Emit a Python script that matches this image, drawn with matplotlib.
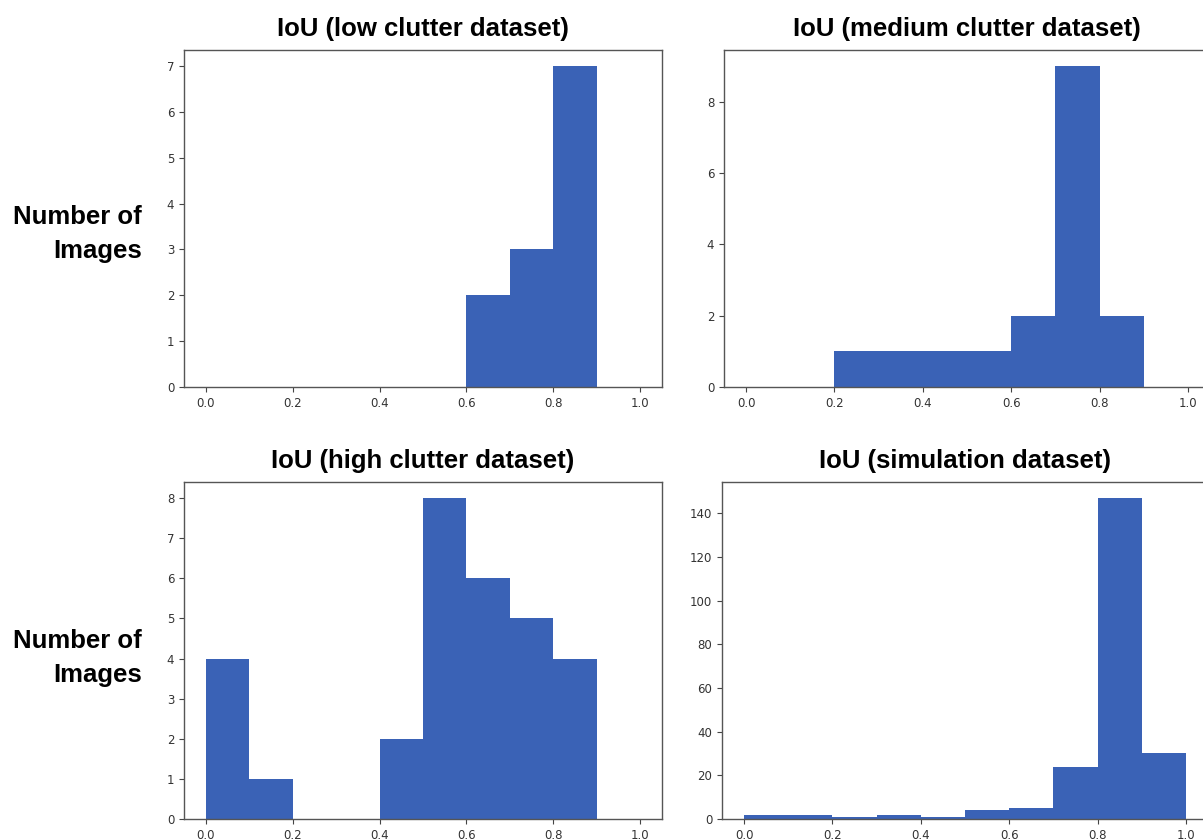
"""IoU histograms for the four evaluation datasets (2x2 grid)."""

import matplotlib

matplotlib.use("Agg")
import matplotlib.pyplot as plt  # noqa: E402
import numpy as np  # noqa: E402

# histogram bin edges (10 bins over [0, 1])
edges = np.linspace(0.0, 1.0, 11)

# images per IoU bin
low_counts = [0, 0, 0, 0, 0, 0, 2, 3, 7, 0]
medium_counts = [0, 0, 1, 1, 1, 1, 2, 9, 2, 0]
high_counts = [4, 1, 0, 0, 2, 8, 6, 5, 4, 0]
sim_counts = [2, 2, 1, 2, 1, 4, 5, 24, 147, 30]

titles = [
    "IoU (low clutter dataset)",
    "IoU (medium clutter dataset)",
    "IoU (high clutter dataset)",
    "IoU (simulation dataset)",
]
ylabel_text = "Number of\nImages"

BAR = "#3a62b6"
W, H = 1203, 839


def px_axes(fig, left, top, right, bottom):
    return fig.add_axes([left / W, 1 - bottom / H, (right - left) / W, (bottom - top) / H])


def draw_hist(ax, counts, title):
    centers = (edges[:-1] + edges[1:]) / 2
    ax.hist(centers, bins=edges, weights=counts, color=BAR, edgecolor="none")
    ax.set_title(title, fontsize=18.5, fontweight="bold", family="Liberation Sans", pad=10)
    ax.set_xticks([0.0, 0.2, 0.4, 0.6, 0.8, 1.0])
    ax.tick_params(labelsize=8.5, labelcolor="#333333", color="#444444", length=3.5)
    for s in ax.spines.values():
        s.set_color("#555555")
        s.set_linewidth(1.0)


def main():
    fig = plt.figure(figsize=(W / 100, H / 100), dpi=100)
    axes = [
        px_axes(fig, 184, 50, 662, 387),
        px_axes(fig, 724, 50, 1202 + 8, 387),
        px_axes(fig, 184, 482, 662, 819),
        px_axes(fig, 722, 482, 1200 + 8, 819),
    ]
    for ax, counts, title in zip(axes, [low_counts, medium_counts, high_counts, sim_counts], titles):
        draw_hist(ax, counts, title)

    for yc in (234, 658):
        fig.text(142 / W, 1 - yc / H, ylabel_text, ha="right", va="center",
                 fontsize=18.5, fontweight="bold", family="Liberation Sans",
                 linespacing=1.5)

    fig.savefig("out.png", dpi=100)
    plt.close(fig)


if __name__ == "__main__":
    main()
